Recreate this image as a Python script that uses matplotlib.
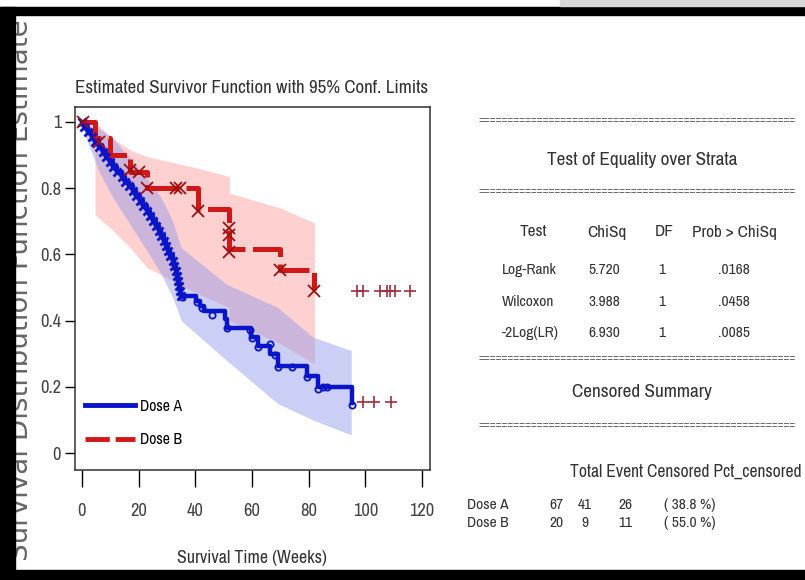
import matplotlib
matplotlib.use('Agg')
import matplotlib.pyplot as plt
from matplotlib import font_manager
from matplotlib.font_manager import FontProperties
from matplotlib.patches import Rectangle
from matplotlib.lines import Line2D

# look for a narrow / condensed face, SAS output uses one
narrow, stretch = 'Liberation Sans', 'normal'
for f in font_manager.fontManager.ttflist:
    if 'Narrow' in f.name or 'Condensed' in f.name:
        narrow, stretch = f.name, 'normal'
        break
    if f.stretch == 'condensed' and f.name in ('DejaVu Sans', 'Liberation Sans'):
        narrow, stretch = f.name, 'condensed'

# Dose B (red) step curve
b_time = [0, 4.6, 10, 17, 23, 41, 52, 70, 82]
b_surv = [1.0, 0.95, 0.90, 0.85, 0.80, 0.738, 0.615, 0.554, 0.492]
b_x_time = [0.5, 6, 17, 20, 23, 33, 34.6, 41, 52, 52, 52, 70, 82]
b_x_surv = [1.0, 0.94, 0.855, 0.85, 0.80, 0.80, 0.80, 0.73, 0.68, 0.66, 0.607, 0.553, 0.49]
b_cens_time = [97, 99, 105, 107.5, 108.6, 110.5, 115.8]
b_cens_surv = [0.49, 0.49, 0.49, 0.49, 0.49, 0.49, 0.49]

# Dose A (blue) step curve
a_time = [0, 0.8, 2, 3.5, 4.5, 6, 7.5, 8.5, 10, 11, 12.5, 14, 15, 16.5, 18, 19,
          20.5, 21.5, 23, 24, 25, 26, 27, 28, 28.8, 29.6, 30.4, 31.2, 32, 32.6,
          33, 33.4, 33.8, 34.2, 34.6, 35, 40.3, 41.5, 43, 50.5, 51, 59.5, 62,
          66.5, 69, 79.3, 83.2, 95.3]
a_surv = [1.0, 0.985, 0.970, 0.955, 0.940, 0.925, 0.910, 0.895, 0.880, 0.865,
          0.850, 0.835, 0.820, 0.805, 0.790, 0.775, 0.760, 0.745, 0.730, 0.715,
          0.700, 0.685, 0.670, 0.655, 0.640, 0.625, 0.610, 0.595, 0.580, 0.565,
          0.550, 0.535, 0.520, 0.505, 0.490, 0.475, 0.458, 0.443, 0.428, 0.405,
          0.378, 0.350, 0.322, 0.298, 0.262, 0.232, 0.200, 0.150]
a_o_time = [35.2, 40.5, 42.2, 45.8, 51.1, 59.3, 59.9, 62.2, 66.4, 68.1, 69.3,
            74, 79.3, 83.4, 85.2, 86.4, 95.4]
a_o_surv = [0.472, 0.457, 0.437, 0.417, 0.377, 0.372, 0.347, 0.32, 0.33, 0.296,
            0.26, 0.26, 0.23, 0.195, 0.2, 0.2, 0.145]
a_cens_time = [99, 103, 109]
a_cens_surv = [0.155, 0.155, 0.155]

# 95% confidence bands
b_band_t = [0, 4.6, 4.6, 10, 17, 23, 41, 52, 52, 70, 82]
b_upper = [1.0, 1.0, 1.0, 0.955, 0.915, 0.895, 0.86, 0.835, 0.785, 0.74, 0.695]
b_lower = [1.0, 1.0, 0.72, 0.68, 0.62, 0.56, 0.48, 0.44, 0.40, 0.33, 0.27]

a_band_t = [0, 1, 6, 11, 17, 23, 28, 32, 35, 51, 69, 81.5, 95]
a_upper = [1.0, 1.0, 0.98, 0.95, 0.89, 0.83, 0.77, 0.70, 0.62, 0.51, 0.44, 0.35, 0.31]
a_lower = [1.0, 0.96, 0.85, 0.77, 0.69, 0.61, 0.54, 0.47, 0.40, 0.28, 0.15, 0.10, 0.055]

# tables
test_cols = ['Test', 'ChiSq', 'DF', 'Prob > ChiSq']
test_names = ['Log-Rank', 'Wilcoxon', '-2Log(LR)']
chisq = ['5.720', '3.988', '6.930']
dfs = ['1', '1', '1']
probs = ['.0168', '.0458', '.0085']
cens_cols = ['Total', 'Event', 'Censored', 'Pct_censored']
groups = ['Dose A', 'Dose B']
totals = ['67', '20']
events = ['41', '9']
censored = ['26', '11']
pct = ['( 38.8 %)', '( 55.0 %)']

W, H = 805, 580
fig = plt.figure(figsize=(W / 100, H / 100), dpi=100)
fig.patch.set_facecolor('white')
renderer = fig.canvas.get_renderer()


def fp(size):
    return FontProperties(family=narrow, stretch=stretch, size=size)


def fit(s, width_px):
    # font size that makes s about width_px wide
    w, h, d = renderer.get_text_width_height_descent(s, fp(10), ismath=False)
    return 10 * width_px / w


def fx(px):
    return px / W


def fy(py):
    return 1 - py / H


def put(x, y, s, size, ha='center', color='#333'):
    fig.text(fx(x), fy(y), s, ha=ha, va='center', color=color, fontproperties=fp(size))


ax = fig.add_axes([fx(75), fy(470), fx(430) - fx(75), fy(107) - fy(470)])
ax.set_xlim(-2.47, 122.8)
ax.set_ylim(-0.051, 1.045)

ax.fill_between(b_band_t, b_lower, b_upper, color='#ff8f8f', alpha=0.42, lw=0)
ax.fill_between(a_band_t, a_lower, a_upper, color='#8c96ea', alpha=0.45, lw=0)

ax.step(a_time, a_surv, where='post', color='#0a14c8', lw=3.2, zorder=3)
ax.plot(a_o_time, a_o_surv, 'o', ms=4.5, mfc='none', mec='#0a14c8', mew=1.3, zorder=4)
ax.plot(a_time[:36], a_surv[:36], 'x', ms=6, color='#0a14c8', mew=2, zorder=4)
ax.plot(a_cens_time, a_cens_surv, '+', ms=9, color='#a03040', mew=1.2, zorder=4)

ax.step(b_time, b_surv, where='post', color='#d01818', lw=3.6, dashes=(7, 1.5), zorder=3)
ax.plot(b_x_time, b_x_surv, 'x', ms=8, color='#a01010', mew=1.3, zorder=4)
ax.plot(b_cens_time, b_cens_surv, '+', ms=9, color='#a03040', mew=1.2, zorder=4)

ax.set_xticks([0, 20, 40, 60, 80, 100, 120])
ax.set_yticks([0, 0.2, 0.4, 0.6, 0.8, 1.0])
ax.set_yticklabels(['0', '0.2', '0.4', '0.6', '0.8', '1'])
ax.tick_params(axis='x', length=12, width=1, pad=12, labelcolor='#444')
ax.tick_params(axis='y', length=7, width=1, pad=3, labelcolor='#444')
xs = fit('100', 25)
for lab in ax.get_xticklabels() + ax.get_yticklabels():
    lab.set_fontproperties(fp(xs))
for s in ax.spines.values():
    s.set_linewidth(1.1)
    s.set_color('#333')

lsize = fit('Dose A', 42)
lem = lsize * 100 / 72
handles = [Line2D([], [], color='#0a14c8', lw=3.5),
           Line2D([], [], color='#d01818', lw=3.5, dashes=(5, 1.2))]
ax.legend(handles, ['Dose A', 'Dose B'], loc='lower left',
          bbox_to_anchor=((85 - 75) / 355, (470 - 447) / 363),
          borderaxespad=0, borderpad=0, frameon=False,
          handlelength=50 / lem, handletextpad=5 / lem,
          labelspacing=(34 - lem) / lem, prop=fp(lsize))

put(252, 88, 'Estimated Survivor Function with 95% Conf. Limits',
    fit('Estimated Survivor Function with 95% Conf. Limits', 355))
put(252, 558, 'Survival Time (Weeks)', fit('Survival Time (Weeks)', 150))
fig.text(fx(20), fy(290), 'Survival Distribution Function Estimate', ha='center',
         va='center', rotation=90, size=20, color='#666')

# right-hand tables
eq = '=' * 54
eq_size = fit(eq, 325)
for y in [120, 191, 358, 425]:
    put(478, y, eq, eq_size, ha='left', color='#666')

head = fit('Test of Equality over Strata', 192)
put(642, 160, 'Test of Equality over Strata', head)
put(642, 392, 'Censored Summary', head)

colsz = fit('Prob > ChiSq', 85)
for x, c in zip([520, 587, 655, 692], test_cols):
    put(x, 232, c, colsz, ha='left')
body = fit('Log-Rank', 55)
for i, name in enumerate(test_names):
    y = 270 + i * 31.5
    put(502, y, name, body, ha='left')
    put(604, y, chisq[i], body)
    put(662, y, dfs[i], body)
    put(734, y, probs[i], body)

# column header of the censored summary, one line like the SAS listing
cens_head = ' '.join(cens_cols)
put(570, 472, cens_head, fit(cens_head, 232), ha='left')
for i, g in enumerate(groups):
    y = 505 + i * 18
    put(467, y, g, body, ha='left')
    put(556, y, totals[i], body)
    put(585, y, events[i], body)
    put(625, y, censored[i], body)
    put(690, y, pct[i], body)

# black frame of the screenshot
for (x0, y0, w, h, c) in [(0, 7, W, 8, 'black'), (0, 7, 15, 563, 'black'),
                          (0, 570, W, 10, 'black'), (560, 0, 245, 6, '#d8d8d8')]:
    fig.patches.append(Rectangle((fx(x0), fy(y0 + h)), w / W, h / H,
                                 transform=fig.transFigure, color=c, zorder=10))

fig.savefig('out.png', dpi=100)
